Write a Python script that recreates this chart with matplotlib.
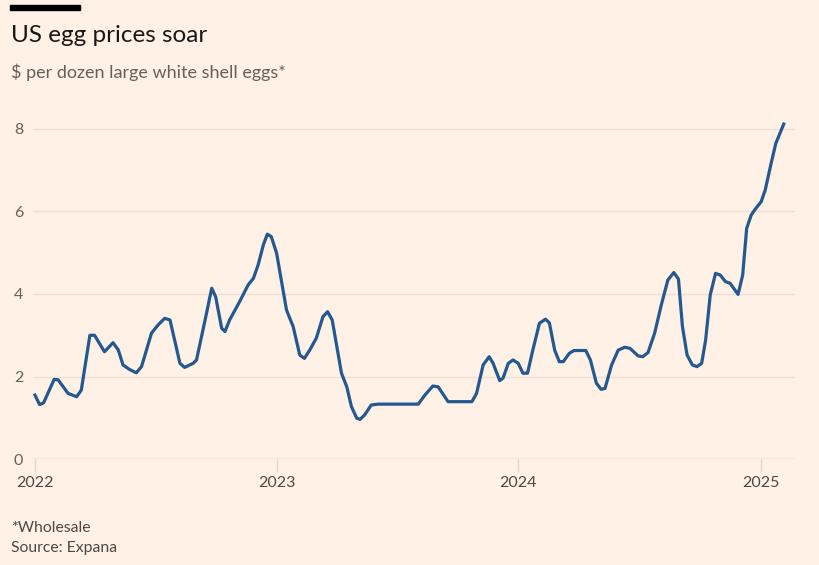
import numpy as np
import pandas as pd
import matplotlib
matplotlib.use('Agg')
import matplotlib.pyplot as plt
import matplotlib.dates as mdates

# weekly-ish wholesale price points
dates = ['2022-01-01', '2022-01-08', '2022-01-14', '2022-01-30', '2022-02-05',
         '2022-02-20', '2022-03-05', '2022-03-12', '2022-03-25', '2022-04-01',
         '2022-04-16', '2022-04-29', '2022-05-07', '2022-05-14', '2022-05-24',
         '2022-06-03', '2022-06-11', '2022-06-26', '2022-07-06', '2022-07-16',
         '2022-07-24', '2022-08-08', '2022-08-15', '2022-08-28', '2022-09-02',
         '2022-09-15', '2022-09-25', '2022-10-01', '2022-10-10', '2022-10-15',
         '2022-10-22', '2022-11-06', '2022-11-19', '2022-11-27', '2022-12-04',
         '2022-12-12', '2022-12-18', '2022-12-24', '2023-01-01', '2023-01-16',
         '2023-01-26', '2023-02-05', '2023-02-12', '2023-02-20', '2023-03-02',
         '2023-03-12', '2023-03-19', '2023-03-26', '2023-04-09', '2023-04-17',
         '2023-04-24', '2023-05-02', '2023-05-07', '2023-05-14', '2023-05-24',
         '2023-06-03', '2023-08-03', '2023-08-13', '2023-08-25', '2023-09-02',
         '2023-09-17', '2023-10-23', '2023-10-30', '2023-11-09', '2023-11-18',
         '2023-11-24', '2023-12-04', '2023-12-09', '2023-12-17', '2023-12-24',
         '2024-01-01', '2024-01-08', '2024-01-15', '2024-01-23', '2024-02-02',
         '2024-02-11', '2024-02-17', '2024-02-25', '2024-03-03', '2024-03-09',
         '2024-03-18', '2024-03-25', '2024-04-12', '2024-04-19', '2024-04-28',
         '2024-05-05', '2024-05-11', '2024-05-21', '2024-05-31', '2024-06-10',
         '2024-06-18', '2024-06-30', '2024-07-07', '2024-07-15', '2024-07-25',
         '2024-08-04', '2024-08-14', '2024-08-23', '2024-08-30', '2024-09-05',
         '2024-09-12', '2024-09-20', '2024-09-27', '2024-10-04', '2024-10-10',
         '2024-10-17', '2024-10-25', '2024-11-01', '2024-11-09', '2024-11-16',
         '2024-11-28', '2024-12-05', '2024-12-11', '2024-12-18', '2024-12-26',
         '2025-01-02', '2025-01-08', '2025-01-17', '2025-01-24', '2025-02-05']

prices = [1.55, 1.32, 1.36, 1.93, 1.92,
          1.59, 1.51, 1.67, 3.00, 3.00,
          2.60, 2.82, 2.64, 2.28, 2.17,
          2.09, 2.24, 3.05, 3.25, 3.41,
          3.37, 2.32, 2.22, 2.32, 2.40,
          3.37, 4.14, 3.93, 3.17, 3.09,
          3.37, 3.81, 4.22, 4.38, 4.70,
          5.19, 5.45, 5.39, 4.99, 3.61,
          3.21, 2.52, 2.44, 2.64, 2.93,
          3.45, 3.57, 3.37, 2.08, 1.75,
          1.27, 0.99, 0.96, 1.07, 1.31,
          1.33, 1.33, 1.55, 1.77, 1.75,
          1.39, 1.39, 1.59, 2.28, 2.48,
          2.32, 1.90, 1.96, 2.32, 2.40,
          2.32, 2.08, 2.08, 2.64, 3.29,
          3.39, 3.30, 2.64, 2.36, 2.36,
          2.56, 2.63, 2.63, 2.40, 1.84,
          1.69, 1.71, 2.28, 2.64, 2.71,
          2.68, 2.50, 2.48, 2.58, 3.05,
          3.73, 4.34, 4.52, 4.36, 3.21,
          2.52, 2.28, 2.24, 2.32, 2.88,
          3.98, 4.50, 4.46, 4.30, 4.26,
          3.99, 4.46, 5.59, 5.92, 6.10,
          6.24, 6.52, 7.17, 7.65, 8.12]

yticks = [0, 2, 4, 6, 8]
xticks = ['2022-01-01', '2023-01-01', '2024-01-01', '2025-01-01']

bg = '#FFF1E5'
plt.rcParams['font.family'] = ['Lato', 'DejaVu Sans']

fig = plt.figure(figsize=(8.2, 5.65), dpi=100, facecolor=bg)
ax = fig.add_axes([0.0402, 0.1876, 0.9293, 0.606])
ax.set_facecolor(bg)

x = pd.to_datetime(dates)
ax.plot(x, prices, color='#245891', linewidth=2.3, solid_joinstyle='round', zorder=3)

ax.set_xlim(pd.Timestamp('2021-12-29'), pd.Timestamp('2025-02-22'))
ax.set_ylim(0, 8.3)

# grid
ax.set_yticks(yticks)
ax.set_yticklabels([str(t) for t in yticks])
ax.yaxis.grid(True, color='#EDE0D6', linewidth=1)
ax.tick_params(axis='y', length=0, pad=7, labelsize=11.5, labelcolor='#66605C')

ax.set_xticks(pd.to_datetime(xticks))
ax.xaxis.set_major_formatter(mdates.DateFormatter('%Y'))
ax.tick_params(axis='x', length=9, width=1, color='#E3D5CA', pad=3,
               labelsize=11.5, labelcolor='#4D4845')
ax.axhline(0, color='#E3D5CA', linewidth=1, zorder=2)
for s in ax.spines.values():
    s.set_visible(False)
ax.set_axisbelow(True)

# titles and notes
fig.patches.append(plt.Rectangle((10/820, 1-10/565), 70/820, 5/565,
                                 transform=fig.transFigure, color='#000000'))
fig.text(11/820, 1-35/565, 'US egg prices soar', fontsize=17.5, color='#1A1817', va='center')
fig.text(11/820, 1-72/565, '$ per dozen large white shell eggs*', fontsize=13,
         color='#66605C', va='center')
fig.text(11/820, 1-528/565, '*Wholesale', fontsize=11.3, color='#4D4845', va='center')
fig.text(11/820, 1-548/565, 'Source: Expana', fontsize=11.3, color='#4D4845', va='center')

plt.savefig('out.png', dpi=100, facecolor=bg)
